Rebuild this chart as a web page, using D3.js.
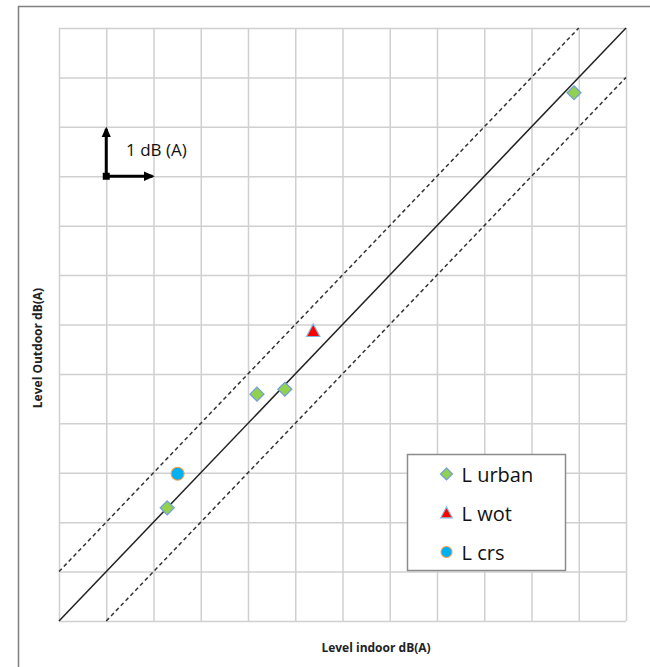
<!DOCTYPE html>
<html>
<head>
<meta charset="utf-8">
<script src="https://cdn.jsdelivr.net/npm/d3@7"></script>
<style>
  body { margin: 0; background: #fff; }
  svg { display: block; font-family: "Open Sans", sans-serif; }
</style>
</head>
<body>
<script>
// values are dB(A) above the lowest grid line (no tick labels on the chart)
const gridTicks = d3.range(0, 13);

const urbanIndoor = [2.29, 4.19, 4.78, 10.90];
const urbanOutdoor = [2.29, 4.59, 4.69, 10.69];
const wotIndoor = [5.38];
const wotOutdoor = [5.87];
const crsIndoor = [2.51];
const crsOutdoor = [2.98];

// reference lines: equal level and +/- 1 dB
const refOffsets = [0, 1, -1];

const legendNames = ["L urban", "L wot", "L crs"];

const w = 650, h = 667;
const padLeft = 59, padRight = 626, padTop = 28, padBottom = 621;

const svg = d3.select("body").append("svg")
    .attr("width", w)
    .attr("height", h);

const xScale = d3.scaleLinear().domain([0, 12]).range([padLeft, padRight]);
const yScale = d3.scaleLinear().domain([0, 12]).range([padBottom, padTop]);

// outer frame (only left and top edges visible)
svg.append("path")
    .attr("d", "M18.5," + h + "V6.5H" + w)
    .attr("fill", "none")
    .attr("stroke", "#808080")
    .attr("stroke-width", 1.5);

// grid
svg.append("g")
    .attr("transform", "translate(0," + padBottom + ")")
    .call(d3.axisBottom(xScale).tickValues(gridTicks).tickSize(-(padBottom - padTop)).tickFormat(""))
    .call(g => g.select(".domain").remove())
    .call(g => g.selectAll("line").attr("stroke", "#d0d0d0").attr("stroke-width", 1.5));

svg.append("g")
    .attr("transform", "translate(" + padLeft + ",0)")
    .call(d3.axisLeft(yScale).tickValues(gridTicks).tickSize(-(padRight - padLeft)).tickFormat(""))
    .call(g => g.select(".domain").remove())
    .call(g => g.selectAll("line").attr("stroke", "#d0d0d0").attr("stroke-width", 1.5));

// diagonal lines
refOffsets.forEach(function (off) {
    const x0 = Math.max(0, -off), x1 = Math.min(12, 12 - off);
    svg.append("line")
        .attr("x1", xScale(x0)).attr("y1", yScale(x0 + off))
        .attr("x2", xScale(x1)).attr("y2", yScale(x1 + off))
        .attr("stroke", off === 0 ? "#222" : "#333")
        .attr("stroke-width", 1.5)
        .attr("stroke-dasharray", off === 0 ? null : "4,3");
});

// markers
function diamond(g, s) {
    g.append("path")
        .attr("d", "M0," + (-s) + "L" + s + ",0L0," + s + "L" + (-s) + ",0Z")
        .attr("fill", "#92d050")
        .attr("stroke", "#6f9fd8")
        .attr("stroke-width", 1.2);
}
function triangle(g, s) {
    g.append("path")
        .attr("d", "M0," + (-s) + "L" + (s * 0.95) + "," + (s * 0.8) + "L" + (-s * 0.95) + "," + (s * 0.8) + "Z")
        .attr("fill", "#ff0000")
        .attr("stroke", "#7fb8d8")
        .attr("stroke-width", 1.2);
}
function circle(g, s) {
    g.append("circle")
        .attr("r", s)
        .attr("fill", "#00b0f0")
        .attr("stroke", "#f0a050")
        .attr("stroke-width", 1.2);
}

svg.selectAll(".urban")
    .data(urbanIndoor)
    .enter()
    .append("g")
    .attr("class", "urban")
    .attr("transform", (d, i) => "translate(" + xScale(d) + "," + yScale(urbanOutdoor[i]) + ")")
    .each(function () { diamond(d3.select(this), 7); });

svg.selectAll(".wot")
    .data(wotIndoor)
    .enter()
    .append("g")
    .attr("class", "wot")
    .attr("transform", (d, i) => "translate(" + xScale(d) + "," + yScale(wotOutdoor[i]) + ")")
    .each(function () { triangle(d3.select(this), 7); });

svg.selectAll(".crs")
    .data(crsIndoor)
    .enter()
    .append("g")
    .attr("class", "crs")
    .attr("transform", (d, i) => "translate(" + xScale(d) + "," + yScale(crsOutdoor[i]) + ")")
    .each(function () { circle(d3.select(this), 6.5); });

// 1 dB scale arrows
const defs = svg.append("defs");
defs.append("marker")
    .attr("id", "head")
    .attr("viewBox", "0 0 10 10")
    .attr("refX", 8).attr("refY", 5)
    .attr("markerWidth", 3.6).attr("markerHeight", 3.2)
    .attr("orient", "auto")
    .attr("preserveAspectRatio", "none")
    .append("path")
    .attr("d", "M0,0L10,5L0,10Z")
    .attr("fill", "#000");

svg.append("line")
    .attr("x1", xScale(1)).attr("y1", yScale(9))
    .attr("x2", xScale(1)).attr("y2", yScale(10) + 2)
    .attr("stroke", "#000").attr("stroke-width", 3)
    .attr("marker-end", "url(#head)");
svg.append("line")
    .attr("x1", xScale(1)).attr("y1", yScale(9))
    .attr("x2", xScale(2) - 1).attr("y2", yScale(9))
    .attr("stroke", "#000").attr("stroke-width", 3)
    .attr("marker-end", "url(#head)");
svg.append("rect")
    .attr("x", xScale(1) - 3.5).attr("y", yScale(9) - 3.5)
    .attr("width", 7).attr("height", 7)
    .attr("fill", "#000");
svg.append("text")
    .attr("x", 126).attr("y", 156)
    .attr("font-size", 17)
    .attr("fill", "#111")
    .text("1 dB (A)");

// legend
const legend = svg.append("g").attr("transform", "translate(407.5,454.5)");
legend.append("rect")
    .attr("width", 158).attr("height", 116)
    .attr("fill", "#fff")
    .attr("stroke", "#8c8c8c")
    .attr("stroke-width", 1.5);

const markers = [diamond, triangle, circle];
legendNames.forEach(function (name, i) {
    const row = legend.append("g").attr("transform", "translate(39," + (19.5 + i * 39) + ")");
    markers[i](row, i === 2 ? 5.5 : 6);
    row.append("text")
        .attr("x", 15).attr("y", 7.5)
        .attr("font-size", 20)
        .attr("fill", "#111")
        .text(name);
});

// axis titles
svg.append("text")
    .attr("text-anchor", "middle")
    .attr("transform", "translate(376,652)")
    .attr("font-size", 12)
    .attr("font-weight", "bold")
    .attr("fill", "#222")
    .text("Level indoor dB(A)");

svg.append("text")
    .attr("text-anchor", "middle")
    .attr("transform", "translate(42,348)rotate(-90)")
    .attr("font-size", 12)
    .attr("font-weight", "bold")
    .attr("fill", "#222")
    .text("Level Outdoor dB(A)");
</script>
</body>
</html>
